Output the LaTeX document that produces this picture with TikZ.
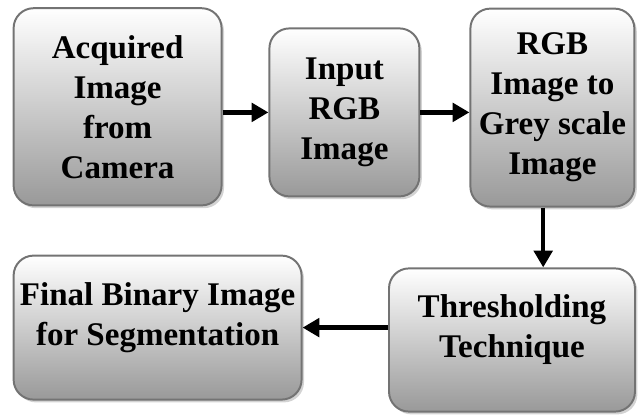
\documentclass[tikz,border=0pt]{standalone}
\usepackage{fontspec}
\setmainfont{Liberation Serif}
\usetikzlibrary{arrows.meta,%
                       shadows,%
                       positioning}

\tikzset{greybox/.style={
			  rectangle,
			  drop shadow     = {shadow xshift=0.06cm, shadow yshift=-0.07cm, opacity=0.35},
			  rounded corners = 5mm,
			  line width      = 1.4pt,
			  draw            = black!55,
			  top color       = white,
			  bottom color    = black!40,
			  font            = \fontsize{23.5}{28.5}\selectfont\bfseries,
			  align           = center,
			  inner sep       = 2pt
			}}
\tikzset{liftup/.style={
			  text depth      = 0.7cm
			}}
\tikzset{flow/.style={
			  line width      = 3.2pt,
			  -{Triangle[length=0.42cm,width=0.46cm]}
			}}

\begin{document}
\begin{tikzpicture}

    \useasboundingbox (0,0) rectangle (15.95,10.35);

    \node (camera)    [greybox, minimum width=5.2cm, minimum height=4.93cm]  at (2.94,7.68)
                      {Acquired\\Image\\from\\Camera};
    \node (rgb)       [greybox, minimum width=3.75cm, minimum height=4.2cm]  at (8.61,7.54)
                      {Input\\RGB\\Image};
    \node (grey)      [greybox, minimum width=4.1cm, minimum height=4.95cm]  at (13.81,7.66)
                      {RGB\\Image to\\Grey scale\\Image};
    \node (threshold) [greybox, liftup, minimum width=6.15cm, minimum height=3.58cm] at (12.8,1.85)
                      {Thresholding\\Technique};
    \node (binary)    [greybox, liftup, minimum width=7.2cm, minimum height=3.6cm]  at (3.94,2.16)
                      {Final Binary Image\\for Segmentation};
    \coordinate (drop) at (13.58,5);

    \draw [flow] (camera.east |- rgb) to (rgb);
    \draw [flow] (rgb)                to (grey.west |- rgb);
    \draw [flow] (grey.south -| drop) to (threshold.north -| drop);
    \draw [flow] (threshold.west |- binary) to (binary);

\end{tikzpicture}
\end{document}
